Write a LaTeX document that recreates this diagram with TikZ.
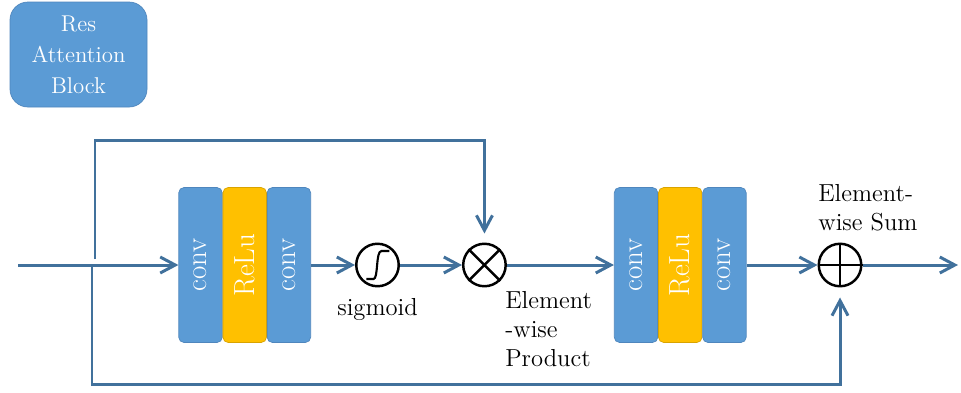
\documentclass[tikz,border=0pt]{standalone}
\usepackage{graphicx}
\usetikzlibrary{arrows.meta,positioning}
\definecolor{boxblue}{HTML}{5B9BD5}
\definecolor{boxedge}{HTML}{4F86BD}
\definecolor{boxgold}{HTML}{FFC000}
\definecolor{goldedge}{HTML}{D9A300}
\definecolor{linkblue}{HTML}{41719C}
\tikzset{
  layer/.style={draw=boxedge, fill=boxblue, rounded corners=3pt, minimum width=0.87cm, minimum height=3.1cm, inner sep=0pt, text=white, font=\fontsize{16.5}{18}\selectfont},
  actv/.style={layer, fill=boxgold, draw=goldedge},
  opnode/.style={circle, draw=black, line width=1.4pt, minimum size=0.85cm, inner sep=0pt},
  link/.style={draw=linkblue, line width=1.7pt},
  linkarr/.style={link, -{Straight Barb[length=3mm, width=3.2mm]}},
  caption/.style={font=\fontsize{14}{16.5}\selectfont, align=left, inner sep=0pt}
}

\begin{document}
\begin{tikzpicture}
\useasboundingbox (0,0) rectangle (19.22,-7.84);
\node[draw=boxedge, fill=boxblue, rounded corners=0.36cm, minimum width=2.74cm, minimum height=2.1cm, text=white, align=center, font=\fontsize{13}{17.6}\selectfont] (title) at (1.57,-1.09) {Res\\Attention\\Block};
% attention branch
\node[layer] (conva) at (4.01,-5.3) {\rotatebox{90}{conv}};
\node[actv, right=0pt of conva] (relua) {\rotatebox{90}{ReLu}};
\node[layer, right=0pt of relua] (convb) {\rotatebox{90}{conv}};
\node[opnode, right=0.88cm of convb] (sig) {};
\node[opnode, right=1.24cm of sig] (prod) {};
% second block
\node[layer, right=2.14cm of prod] (convc) {\rotatebox{90}{conv}};
\node[actv, right=0pt of convc] (relub) {\rotatebox{90}{ReLu}};
\node[layer, right=0pt of relub] (convd) {\rotatebox{90}{conv}};
\node[opnode, right=1.42cm of convd] (sum) {};
% labels
\node[caption, below=0.22cm of sig] (siglab) {sigmoid};
\node[caption, anchor=north west] (prodlab) at (10.1,-5.82) {Element\\-wise\\Product};
\node[caption, anchor=north west] (sumlab) at (16.36,-3.68) {Element-\\wise Sum};
% symbols
\draw[line width=1.2pt, shift={(sig.center)}] (-0.22,-0.28) -- (-0.08,-0.28) .. controls (0.02,-0.28) and (-0.04,0.28) .. (0.08,0.28) -- (0.24,0.28);
\draw[line width=1.4pt] (prod.north east) -- (prod.south west) (prod.north west) -- (prod.south east);
\draw[line width=1.4pt] (sum.north) -- (sum.south) (sum.west) -- (sum.east);
% connectors
\coordinate (in) at (0.36,-5.3);
\coordinate (up) at (1.9,-5.18);
\coordinate (top) at (1.9,-2.8);
\coordinate (down) at (1.84,-5.34);
\coordinate (bot) at (1.84,-7.68);
\coordinate (out) at (19.16,-5.3);
\draw[linkarr] (in) -- (conva);
\draw[linkarr] (convb) -- (sig);
\draw[linkarr] (sig) -- (prod);
\draw[linkarr] (prod) -- (convc);
\draw[linkarr] (convd) -- (sum);
\draw[linkarr] (sum) -- (out);
\draw[linkarr, shorten >=0.18cm] (up) -- (top) -| (prod.north);
\draw[linkarr, shorten >=0.2cm] (down) -- (bot) -| (sum.south);
\end{tikzpicture}
\end{document}
